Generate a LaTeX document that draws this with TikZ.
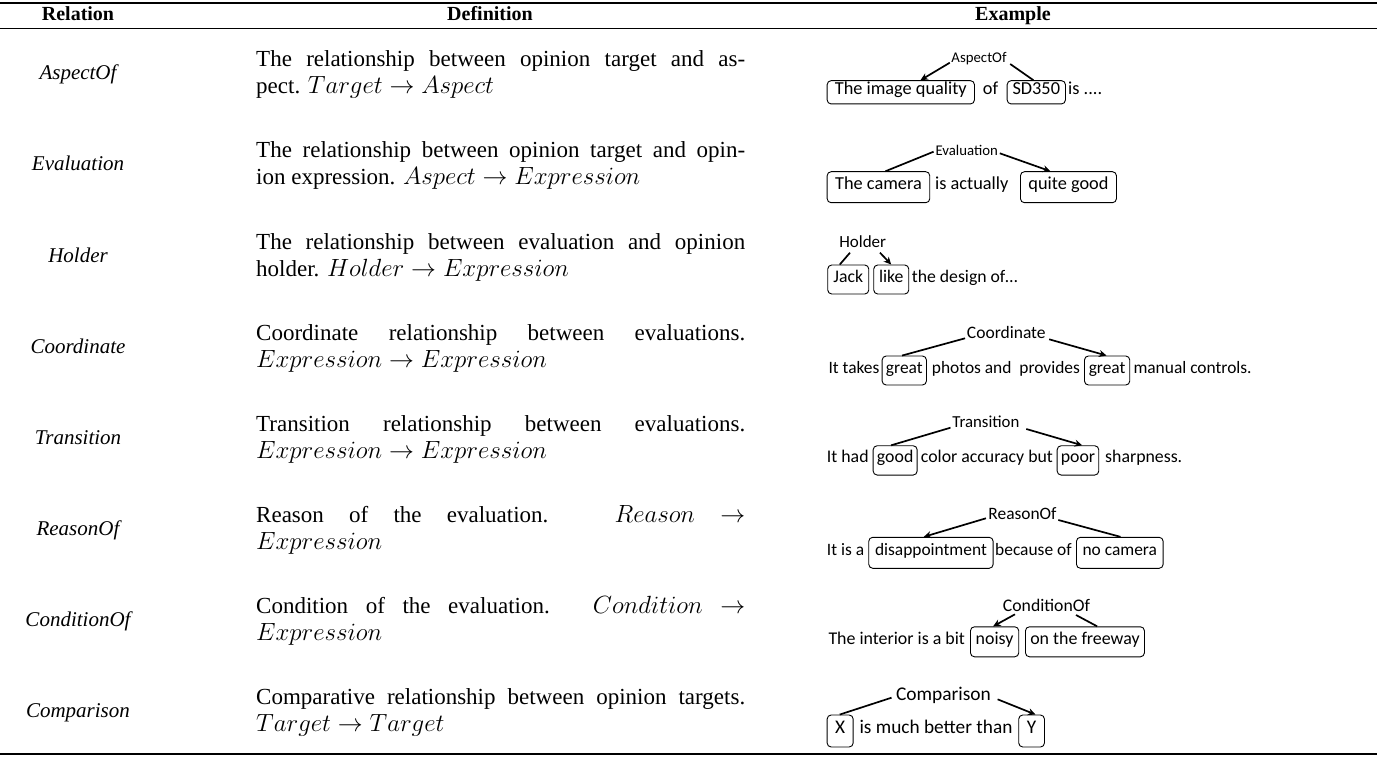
\documentclass[tikz,border=0pt]{standalone}
\usepackage{fontspec}
\setmainfont{Liberation Serif}
\newfontfamily\exfont{Carlito}
\usetikzlibrary{arrows.meta}
\tikzset{
  rel/.style={anchor=base,inner sep=0pt,font=\fontsize{21}{25}\selectfont\itshape},
  deftxt/.style={anchor=base west,inner sep=0pt,font=\fontsize{23}{25}\selectfont},
  head/.style={anchor=base,inner sep=0pt,font=\fontsize{20}{24}\selectfont\bfseries},
  wbox/.style={draw,rounded corners=4pt,line width=0.9pt,anchor=west,inner sep=0pt,text height=0.7em,text depth=0.2em},
  wtxt/.style={anchor=west,inner sep=0pt,text height=0.7em,text depth=0.2em},
  lab/.style={inner sep=0pt},
  ln/.style={line width=1.7pt},
  arr/.style={line width=1.7pt,-{Stealth[length=7.5pt,width=7pt]}},
}
\newcommand{\jline}[1]{\hbox to 489pt{#1}}
\begin{document}
\begin{tikzpicture}[x=1pt,y=-1pt]
\fill[white] (0,0) rectangle (1377,757);
\useasboundingbox (0,0) rectangle (1377,757);
% rules
\draw[line width=2pt] (0,3) -- (1377,3);
\draw[line width=1pt] (0,28.5) -- (1377,28.5);
\draw[line width=1.5pt] (0,754) -- (1377,754);
% header
\node[head] (hrel) at (78,21) {Relation};
\node[head] (hdef) at (490,21) {Definition};
\node[head] (hex) at (1013,21) {Example};
% relation column
\node[rel] (r1) at (78,80) {AspectOf};
\node[rel] (r2) at (78,171) {Evaluation};
\node[rel] (r3) at (78,262) {Holder};
\node[rel] (r4) at (78,353) {Coordinate};
\node[rel] (r5) at (78,444) {Transition};
\node[rel] (r6) at (78,535) {ReasonOf};
\node[rel] (r7) at (78,626) {ConditionOf};
\node[rel] (r8) at (78,717) {Comparison};
% definitions
\node[deftxt] (d1a) at (256,67) {\jline{The relationship between opinion target and as-}};
\node[deftxt] (d1b) at (256,94) {pect. $Target \rightarrow Aspect$};
\node[deftxt] (d2a) at (256,158) {\jline{The relationship between opinion target and opin-}};
\node[deftxt] (d2b) at (256,185) {ion expression. $Aspect \rightarrow Expression$};
\node[deftxt] (d3a) at (256,249) {\jline{The relationship between evaluation and opinion}};
\node[deftxt] (d3b) at (256,276) {holder. $Holder \rightarrow Expression$};
\node[deftxt] (d4a) at (256,340) {\jline{Coordinate relationship between evaluations.}};
\node[deftxt] (d4b) at (256,367) {$Expression \rightarrow Expression$};
\node[deftxt] (d5a) at (256,431) {\jline{Transition relationship between evaluations.}};
\node[deftxt] (d5b) at (256,458) {$Expression \rightarrow Expression$};
\node[deftxt] (d6a) at (256,522) {\jline{Reason of the evaluation. $Reason$ $\rightarrow$}};
\node[deftxt] (d6b) at (256,549) {$Expression$};
\node[deftxt] (d7a) at (256,613) {\jline{Condition of the evaluation. $Condition$ $\rightarrow$}};
\node[deftxt] (d7b) at (256,640) {$Expression$};
\node[deftxt] (d8a) at (256,704) {\jline{Comparative relationship between opinion targets.}};
\node[deftxt] (d8b) at (256,731) {$Target \rightarrow Target$};
% ---- examples ----
% row 1
\begin{scope}[every node/.append style={font=\exfont\fontsize{18.3}{22}\selectfont}]
\node[wbox,minimum width=147.3pt,minimum height=23.3pt] (a1) at (826.7,92.3) {The image quality};
\node[wtxt] (t1a) at (982.7,92.3) {of};
\node[wbox,minimum width=58.3pt,minimum height=23.3pt] (b1) at (1006.7,92.3) {SD350};
\node[wtxt] (t1b) at (1068,92.3) {is ....};
\node[lab,font=\exfont\fontsize{14.8}{17}\selectfont] (L1) at (979,58.3) {AspectOf};
\draw[arr] ([shift={(-1.5,4.4)}]L1.west) -- ([shift={(19.7,0)}]a1.north);
\draw[ln] ([shift={(-2.9,0)}]b1.north) -- ([shift={(3.5,5.7)}]L1.east);
\end{scope}
% row 2
\begin{scope}[every node/.append style={font=\exfont\fontsize{18.3}{22}\selectfont}]
\node[wbox,minimum width=102.6pt,minimum height=31pt] (a2) at (826.7,187.2) {The camera};
\node[wtxt] (t2a) at (935,187.2) {is actually};
\node[wbox,minimum width=96pt,minimum height=31pt] (b2) at (1020,187.2) {quite good};
\node[lab,font=\exfont\fontsize{14.8}{17}\selectfont] (L2) at (966.7,150) {Evaluation};
\draw[ln] ([shift={(7,0)}]a2.north) -- ([shift={(-1.7,1.7)}]L2.west);
\draw[arr] ([shift={(1.7,3.3)}]L2.east) -- ([shift={(-18,0)}]b2.north);
\end{scope}
% row 3
\begin{scope}[every node/.append style={font=\exfont\fontsize{17.7}{21}\selectfont}]
\node[wbox,minimum width=41pt,minimum height=29pt] (a3) at (827.3,279.5) {Jack};
\node[wbox,minimum width=35pt,minimum height=29pt] (b3) at (873.3,279.5) {like};
\node[wtxt] (t3a) at (911.7,279.5) {the design of…};
\node[lab,font=\exfont\fontsize{17}{20}\selectfont] (L3) at (862.7,241.7) {Holder};
\draw[ln] ([shift={(-8.5,0)}]a3.north) -- ([shift={(-12.7,11)}]L3.center);
\draw[arr] ([shift={(17.3,11)}]L3.center) -- (b3.north);
\end{scope}
% row 4
\begin{scope}[every node/.append style={font=\exfont\fontsize{17.4}{21}\selectfont}]
\node[wtxt] (t4a) at (828.3,370.5) {It takes};
\node[wbox,minimum width=44.3pt,minimum height=29pt] (a4) at (881.7,370.5) {great};
\node[wtxt] (t4b) at (931.7,370.5) {photos and \ provides};
\node[wbox,minimum width=45.3pt,minimum height=29pt] (b4) at (1084,370.5) {great};
\node[wtxt] (t4c) at (1133.3,370.5) {manual controls.};
\node[lab,font=\exfont\fontsize{17.5}{20}\selectfont] (L4) at (1006.3,332.7) {Coordinate};
\draw[ln] ([shift={(-2.2,0)}]a4.north) -- ([shift={(-1.7,5.6)}]L4.west);
\draw[arr] ([shift={(3.3,6.6)}]L4.east) -- ([shift={(-0.6,0)}]b4.north);
\end{scope}
% row 5
\begin{scope}[every node/.append style={font=\exfont\fontsize{17.8}{21}\selectfont}]
\node[wtxt] (t5a) at (826.7,460.4) {It had};
\node[wbox,minimum width=44pt,minimum height=29.3pt] (a5) at (872.7,460.4) {good};
\node[wtxt] (t5b) at (920.7,460.4) {color accuracy but};
\node[wbox,minimum width=41.6pt,minimum height=29.3pt] (b5) at (1056.7,460.4) {poor};
\node[wtxt] (t5c) at (1105,460.4) {sharpness.};
\node[lab,font=\exfont\fontsize{16.8}{20}\selectfont] (L5) at (985.9,421.7) {Transition};
\draw[ln] ([shift={(-4,0)}]a5.north) -- ([shift={(-1.7,6)}]L5.west);
\draw[arr] ([shift={(6.7,7.3)}]L5.east) -- ([shift={(4.2,0)}]b5.north);
\end{scope}
% row 6
\begin{scope}[every node/.append style={font=\exfont\fontsize{17.4}{21}\selectfont}]
\node[wtxt] (t6a) at (826.7,552.8) {It is a};
\node[wbox,minimum width=124.4pt,minimum height=31pt] (a6) at (868.3,552.8) {disappointment};
\node[wtxt] (t6b) at (995,552.8) {because of};
\node[wbox,minimum width=86.7pt,minimum height=31pt] (b6) at (1076,552.8) {no camera};
\node[lab,font=\exfont\fontsize{17.4}{20}\selectfont] (L6) at (1022.5,513.3) {ReasonOf};
\draw[arr] ([shift={(-2.3,5)}]L6.west) -- ([shift={(-7.2,0)}]a6.north);
\draw[ln] ([shift={(0.7,0)}]b6.north) -- ([shift={(1.6,6.7)}]L6.east);
\end{scope}
% row 7
\begin{scope}[every node/.append style={font=\exfont\fontsize{17.9}{21}\selectfont}]
\node[wtxt] (t7a) at (828.3,641.8) {The interior is a bit};
\node[wbox,minimum width=48.3pt,minimum height=30pt] (a7) at (970,641.8) {noisy};
\node[wbox,minimum width=119pt,minimum height=30pt] (b7) at (1025,641.8) {on the freeway};
\node[lab,font=\exfont\fontsize{17.7}{20}\selectfont] (L7) at (1046.5,605) {ConditionOf};
\draw[arr] ([shift={(-31.5,9.3)}]L7.center) -- ([shift={(-1.5,0)}]a7.north);
\draw[ln] ([shift={(29.5,10)}]L7.center) -- ([shift={(12.2,0)}]b7.north);
\end{scope}
% row 8
\begin{scope}[every node/.append style={font=\exfont\fontsize{19.3}{23}\selectfont}]
\node[wbox,minimum width=26pt,minimum height=32pt] (a8) at (826.7,731) {X};
\node[wtxt] (t8a) at (859.3,731) {is much better than};
\node[wbox,minimum width=25.7pt,minimum height=32pt] (b8) at (1018.3,731) {Y};
\node[lab,font=\exfont\fontsize{19.4}{22}\selectfont] (L8) at (943.4,695) {Comparison};
\draw[ln] ([shift={(-0.4,0)}]a8.north) -- ([shift={(-4.3,2.7)}]L8.west);
\draw[arr] ([shift={(6.6,4.3)}]L8.east) -- ([shift={(3.9,0)}]b8.north);
\end{scope}
\end{tikzpicture}
\end{document}
